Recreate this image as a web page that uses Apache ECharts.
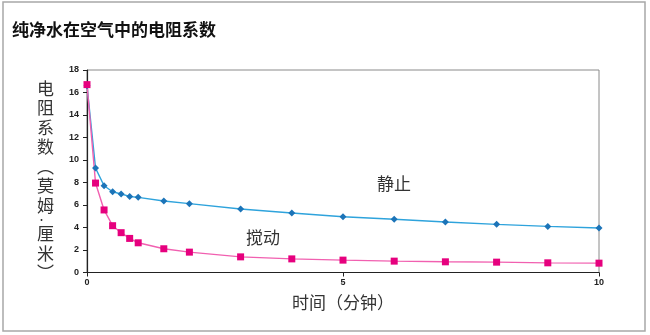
<!DOCTYPE html>
<html>
<head>
<meta charset="utf-8">
<script src="https://cdn.jsdelivr.net/npm/echarts@6/dist/echarts.min.js"></script>
<style>
  html, body { margin: 0; padding: 0; background: #fff; }
  #chart { width: 650px; height: 335px; }
</style>
</head>
<body>
<div id="chart"></div>
<script>
// Time in minutes (first minute sampled every 10 s)
const times = [0, 1/6, 2/6, 3/6, 4/6, 5/6, 1, 1.5, 2, 3, 4, 5, 6, 7, 8, 9, 10];
// Resistivity, standing water (静止)
const stillVals = [16.6, 9.28, 7.71, 7.18, 6.98, 6.76, 6.68, 6.36, 6.12, 5.65, 5.29, 4.96, 4.73, 4.49, 4.28, 4.10, 3.96];
// Resistivity, stirred water (搅动)
const stirredVals = [16.7, 7.95, 5.56, 4.16, 3.54, 3.03, 2.64, 2.11, 1.81, 1.39, 1.21, 1.10, 1.01, 0.95, 0.92, 0.86, 0.83];
const xTicks = [0, 5, 10];
const yTicks = [0, 2, 4, 6, 8, 10, 12, 14, 16, 18];

const titleText = '纯净水在空气中的电阻系数';
const yName = ['电', '阻', '系', '数', '︵', '莫', '姆', '·', '厘', '米', '︶'];
const xName = '时间（分钟）';
const cjk = '"Noto Sans CJK SC", sans-serif';

const pair = (vals) => times.map((t, i) => [t, vals[i]]);
// vertical axis title: one glyph per line, the separator dot on a short line
const yNameRich = yName.map((ch) => (ch === '·' ? '{d|' + ch + '}' : '{c|' + ch + '}')).join('\n');

const chart = echarts.init(document.getElementById('chart'), null, { renderer: 'canvas' });
chart.setOption({
  animation: false,
  backgroundColor: '#fff',
  grid: { left: 87, right: 51, top: 70, bottom: 62.5, show: true, borderColor: '#8a8a8a', borderWidth: 1 },
  xAxis: {
    type: 'value', min: xTicks[0], max: xTicks[xTicks.length - 1], interval: 5,
    name: xName, nameLocation: 'middle', nameGap: 22,
    nameTextStyle: { fontFamily: cjk, fontSize: 17, color: '#333' },
    axisLine: { show: true, lineStyle: { color: '#222', width: 1.2 } },
    axisTick: { show: true, length: 4, lineStyle: { color: '#222' } },
    axisLabel: { fontSize: 9, fontWeight: 'bold', color: '#222', margin: 6, fontFamily: 'Liberation Sans' },
    splitLine: { show: false }
  },
  yAxis: {
    type: 'value', min: yTicks[0], max: yTicks[yTicks.length - 1], interval: 2,
    axisLine: { show: true, lineStyle: { color: '#222', width: 1.2 } },
    axisTick: { show: true, length: 4, lineStyle: { color: '#222' } },
    axisLabel: { fontSize: 9, fontWeight: 'bold', color: '#222', margin: 8, fontFamily: 'Liberation Sans' },
    splitLine: { show: false }
  },
  graphic: [
    { type: 'rect', shape: { x: 3, y: 2, width: 642, height: 329 }, style: { fill: null, stroke: '#a8a8a8', lineWidth: 1.5 }, silent: true },
    { type: 'text', left: 12, top: 21, style: { text: titleText, font: 'bold 17px ' + cjk, fill: '#111' } },
    {
      type: 'text', left: 37, top: 80,
      style: {
        text: yNameRich, align: 'center',
        rich: {
          c: { fontSize: 17, lineHeight: 19.5, fontFamily: cjk, fill: '#333' },
          d: { fontSize: 9, lineHeight: 9, fontFamily: cjk, fill: '#333' }
        }
      }
    },
    { type: 'text', left: 377, top: 175, style: { text: '静止', font: '17px ' + cjk, fill: '#333' } },
    { type: 'text', left: 246, top: 229, style: { text: '搅动', font: '17px ' + cjk, fill: '#333' } }
  ],
  series: [
    {
      name: '静止', type: 'line', data: pair(stillVals),
      symbol: 'diamond', symbolSize: 7,
      lineStyle: { color: '#2ea3dc', width: 1.4 },
      itemStyle: { color: '#1c74b8' }
    },
    {
      name: '搅动', type: 'line', data: pair(stirredVals),
      symbol: 'rect', symbolSize: 7,
      lineStyle: { color: '#f160b0', width: 1.4 },
      itemStyle: { color: '#e6007e' }
    }
  ]
});
</script>
</body>
</html>
